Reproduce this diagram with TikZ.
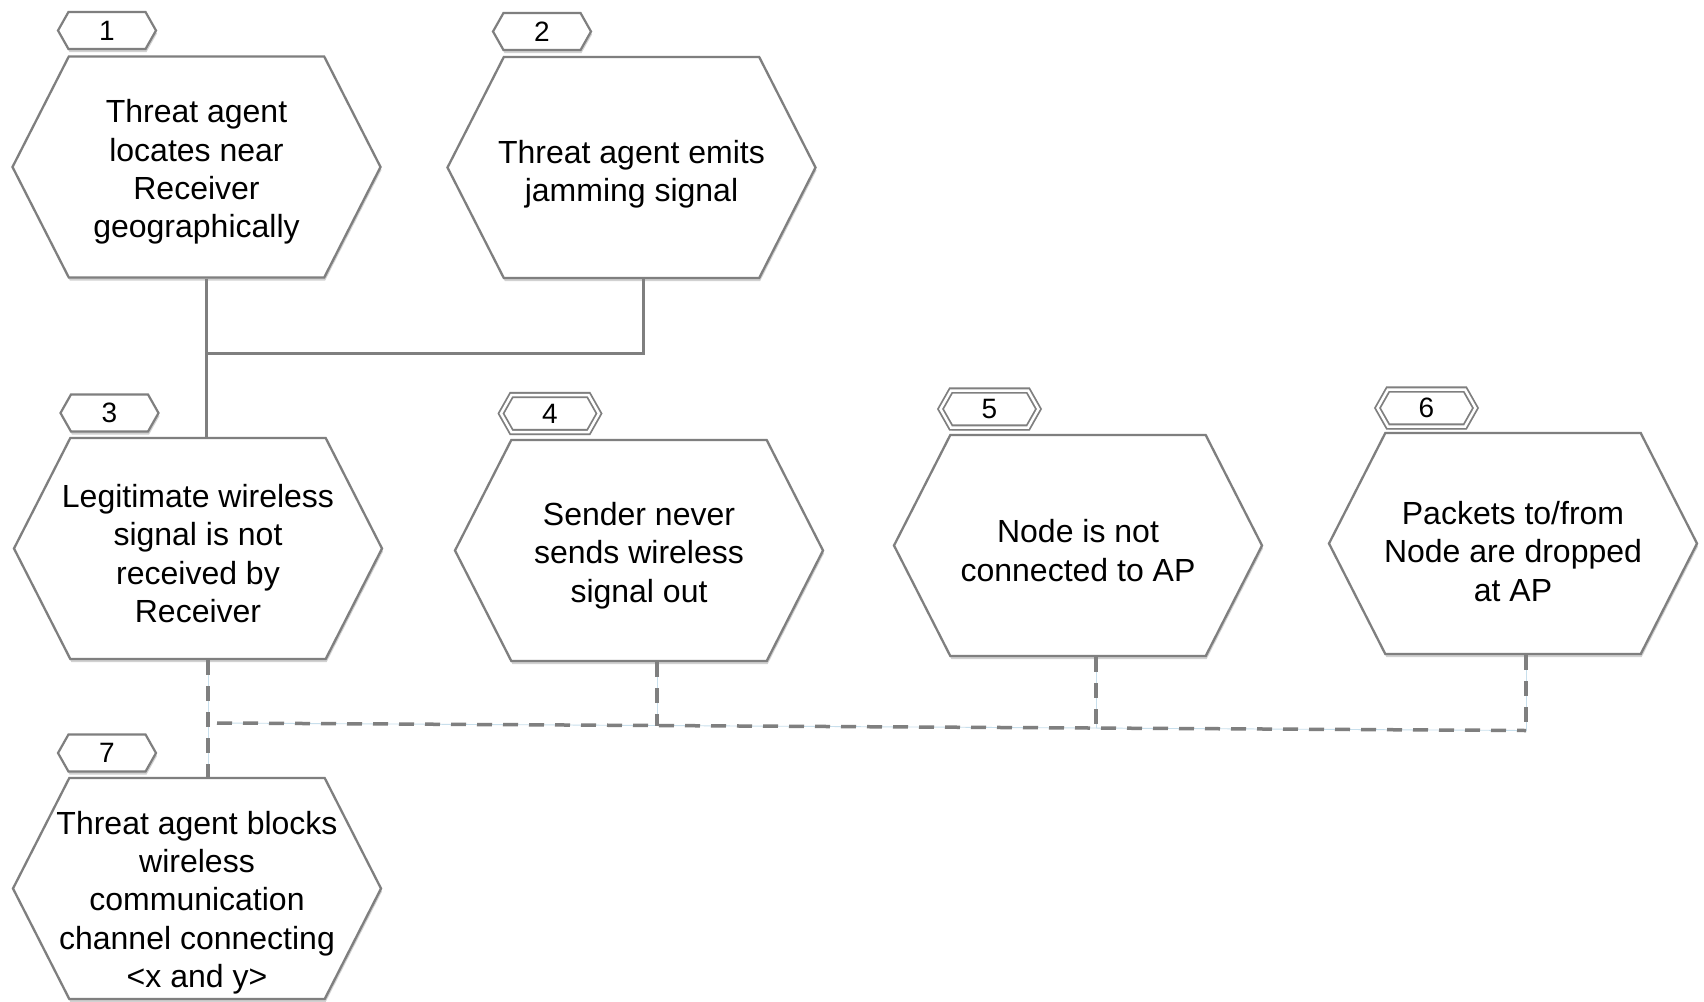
\documentclass[tikz,border=0pt]{standalone}
\usepackage{fontspec}
\setmainfont{Liberation Sans}
\usetikzlibrary{shapes.symbols,shadows}
\definecolor{linegray}{HTML}{7F7F7F}
\definecolor{guideblue}{HTML}{C8DFEC}
\begin{document}
\begin{tikzpicture}[x=1pt,y=-1pt,
  softshadow/.style={drop shadow={shadow xshift=1pt, shadow yshift=-3pt, opacity=0.18, fill=black}},
  hexbox/.style={shape=signal, signal to=west and east, signal pointer angle=126,
    minimum width=368pt, minimum height=221pt, inner sep=0pt,
    draw=linegray, line width=2.3pt, fill=white, softshadow},
  hextext/.style={align=center, font=\fontsize{32}{38.3}\selectfont, inner sep=0pt, text=black, yshift=-5pt},
  tagbox/.style={shape=signal, signal to=west and east, signal pointer angle=121,
    minimum width=98pt, minimum height=37pt, inner sep=0pt,
    draw=linegray, line width=2.2pt, fill=white, softshadow,
    font=\fontsize{28}{32}\selectfont},
  tagdouble/.style={tagbox, double=white, double distance=2.5pt, line width=1.8pt},
  link/.style={draw=linegray, line width=3pt},
  dlink/.style={draw=linegray, line width=3.5pt, dash pattern=on 15pt off 11pt},
  guide/.style={draw=guideblue, line width=0.9pt}
]
\useasboundingbox[fill=white] (0,0) rectangle (1704,1001);

% hexagons
\node[hexbox, label={[hextext]center:{Threat agent\\locates near\\Receiver\\geographically}}] (h1) at (196.5,167) {};
\node[hexbox, label={[hextext, yshift=-2pt]center:{Threat agent emits\\jamming signal}}] (h2) at (631.5,167.5) {};
\node[hexbox, label={[hextext]center:{Legitimate wireless\\signal is not\\received by\\Receiver}}] (h3) at (198,548.5) {};
\node[hexbox, label={[hextext]center:{Sender never\\sends wireless\\signal out}}] (h4) at (639,550.5) {};
\node[hexbox, label={[hextext]center:{Node is not\\connected to AP}}] (h5) at (1078,545.5) {};
\node[hexbox, label={[hextext, yshift=-3pt]center:{Packets to/from\\Node are dropped\\at AP}}] (h6) at (1513,543.5) {};
\node[hexbox, label={[hextext, yshift=-9pt]center:{Threat agent blocks\\wireless\\communication\\channel connecting\\<x and y>}}] (h7) at (197,888.5) {};

% tags
\node[tagbox] (t1) at (107,30.5) {1};
\node[tagbox] (t2) at (542,31.5) {2};
\node[tagbox] (t3) at (109.5,413) {3};
\node[tagdouble] (t4) at (550,413.5) {4};
\node[tagdouble] (t5) at (989.5,409) {5};
\node[tagdouble] (t6) at (1426.5,408) {6};
\node[tagbox] (t7) at (107,753) {7};

% solid connectors
\coordinate (j1) at (206,353);
\coordinate (j2) at (643,353);
\draw[link] (h1.south -| j1) -- (h3.north -| j1);
\draw[link] (h2.south -| j2) -- (j2) -- (j1);

% dashed connectors
\coordinate (d3) at (208,723);
\coordinate (d0) at (217,723);
\coordinate (d4) at (657,725.5);
\coordinate (d5) at (1096,728);
\coordinate (d6) at (1526,730.5);
\draw[guide] (h3.south -| d3) -- (h7.north -| d3);
\draw[guide] (d0) -- (d6);
\draw[guide] (h4.south -| d4) -- (d4);
\draw[guide] (h5.south -| d5) -- (d5);
\draw[guide] (h6.south -| d6) -- (d6);
\draw[dlink] (h3.south -| d3) -- (h7.north -| d3);
\draw[dlink] (d0) -- (d6);
\draw[dlink] (h4.south -| d4) -- (d4);
\draw[dlink] (h5.south -| d5) -- (d5);
\draw[dlink] (h6.south -| d6) -- (d6);
\end{tikzpicture}
\end{document}
